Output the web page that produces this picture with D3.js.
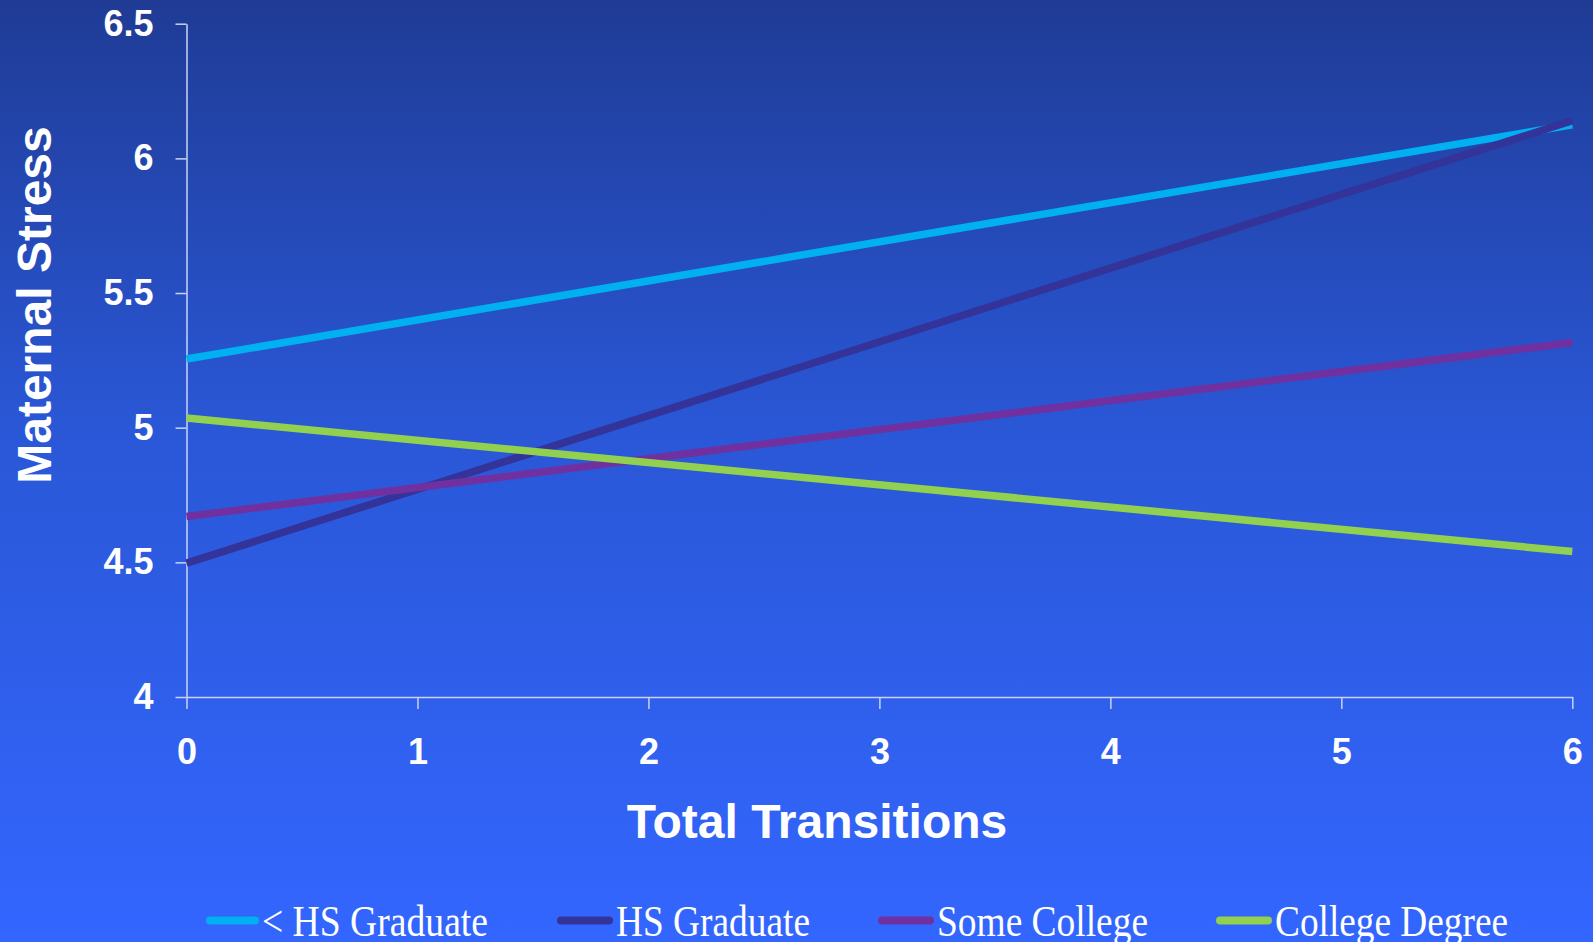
<!DOCTYPE html>
<html>
<head>
<meta charset="utf-8">
<script src="https://cdn.jsdelivr.net/npm/d3@7"></script>
<style>
  html, body { margin: 0; padding: 0; overflow: hidden; }
  svg { display: block; }
</style>
</head>
<body>
<svg id="chart" width="1593" height="942"></svg>
<script>
// Total transitions (x) and predicted maternal stress for each education group
const transitions = [0, 6];
const lessThanHS = [5.255, 6.125];
const hsGraduate = [4.497, 6.14];
const someCollege = [4.67, 5.316];
const collegeDegree = [5.036, 4.54];

const seriesNames = ["< HS Graduate", "HS Graduate", "Some College", "College Degree"];
const seriesValues = [lessThanHS, hsGraduate, someCollege, collegeDegree];
const seriesColors = ["#00B0F0", "#333399", "#7030A0", "#92D050"];

const xTicks = [0, 1, 2, 3, 4, 5, 6];
const yTicks = [4, 4.5, 5, 5.5, 6, 6.5];

const W = 1593, H = 942;
const svg = d3.select("#chart");

// Background gradient
const defs = svg.append("defs");
const grad = defs.append("linearGradient")
  .attr("id", "bg").attr("x1", 0).attr("y1", 0).attr("x2", 0).attr("y2", 1);
grad.append("stop").attr("offset", "0%").attr("stop-color", "#1F3B95");
grad.append("stop").attr("offset", "45%").attr("stop-color", "#2A57D6");
grad.append("stop").attr("offset", "100%").attr("stop-color", "#3366FF");
svg.append("rect").attr("width", W).attr("height", H).attr("fill", "url(#bg)");

const x = d3.scaleLinear().domain([0, 6]).range([186.5, 1572.3]);
const y = d3.scaleLinear().domain([4, 6.5]).range([697, 23.7]);

const axisColor = "#C9D4F4";

// X axis
const gx = svg.append("g")
  .attr("transform", `translate(0,${y(4)})`)
  .call(d3.axisBottom(x).tickValues(xTicks).tickFormat(d3.format("d"))
        .tickSize(12).tickSizeOuter(0).tickPadding(29));
// Y axis
const gy = svg.append("g")
  .attr("transform", `translate(${x(0)},0)`)
  .call(d3.axisLeft(y).tickValues(yTicks).tickFormat(d => String(d))
        .tickSize(11).tickSizeOuter(0).tickPadding(22));

[gx, gy].forEach(g => {
  g.select(".domain").attr("stroke", axisColor).attr("stroke-width", 1.5);
  g.selectAll(".tick line").attr("stroke", axisColor).attr("stroke-width", 1.5);
  g.selectAll(".tick text")
    .attr("fill", "#FFFFFF")
    .style("font-family", "'Liberation Sans', Arial, sans-serif")
    .style("font-weight", "bold")
    .style("font-size", "36px");
});

// Axis titles
svg.append("text")
  .attr("x", 817).attr("y", 838)
  .attr("text-anchor", "middle")
  .attr("fill", "#FFFFFF")
  .style("font-family", "'Liberation Sans', Arial, sans-serif")
  .style("font-weight", "bold")
  .style("font-size", "48px")
  .text("Total Transitions");

svg.append("text")
  .attr("transform", "translate(51,305) rotate(-90)")
  .attr("text-anchor", "middle")
  .attr("fill", "#FFFFFF")
  .style("font-family", "'Liberation Sans', Arial, sans-serif")
  .style("font-weight", "bold")
  .style("font-size", "48px")
  .text("Maternal Stress");

// Series lines
const line = d3.line()
  .x((d, i) => x(transitions[i]))
  .y(d => y(d));

svg.append("g").selectAll("path")
  .data(seriesValues)
  .join("path")
  .attr("d", d => line(d))
  .attr("fill", "none")
  .attr("stroke", (d, i) => seriesColors[i])
  .attr("stroke-width", 7.5)
  .attr("stroke-linecap", "butt");

// Legend
const legendItems = [
  { sx: 206, ex: 259, tx: 262, tw: 226 },
  { sx: 557, ex: 613, tx: 616, tw: 194 },
  { sx: 878, ex: 934, tx: 937, tw: 211 },
  { sx: 1216, ex: 1272, tx: 1275, tw: 233 }
];
const legend = svg.append("g");
legendItems.forEach((it, i) => {
  legend.append("line")
    .attr("x1", it.sx + 4).attr("x2", it.ex - 4)
    .attr("y1", 920.5).attr("y2", 920.5)
    .attr("stroke", seriesColors[i])
    .attr("stroke-width", 8)
    .attr("stroke-linecap", "round");
  legend.append("text")
    .attr("x", it.tx).attr("y", 936)
    .attr("fill", "#FFFFFF")
    .attr("textLength", it.tw)
    .attr("lengthAdjust", "spacingAndGlyphs")
    .style("font-family", "'Liberation Serif', 'Times New Roman', serif")
    .style("font-size", "45px")
    .text(seriesNames[i]);
});
</script>
</body>
</html>
